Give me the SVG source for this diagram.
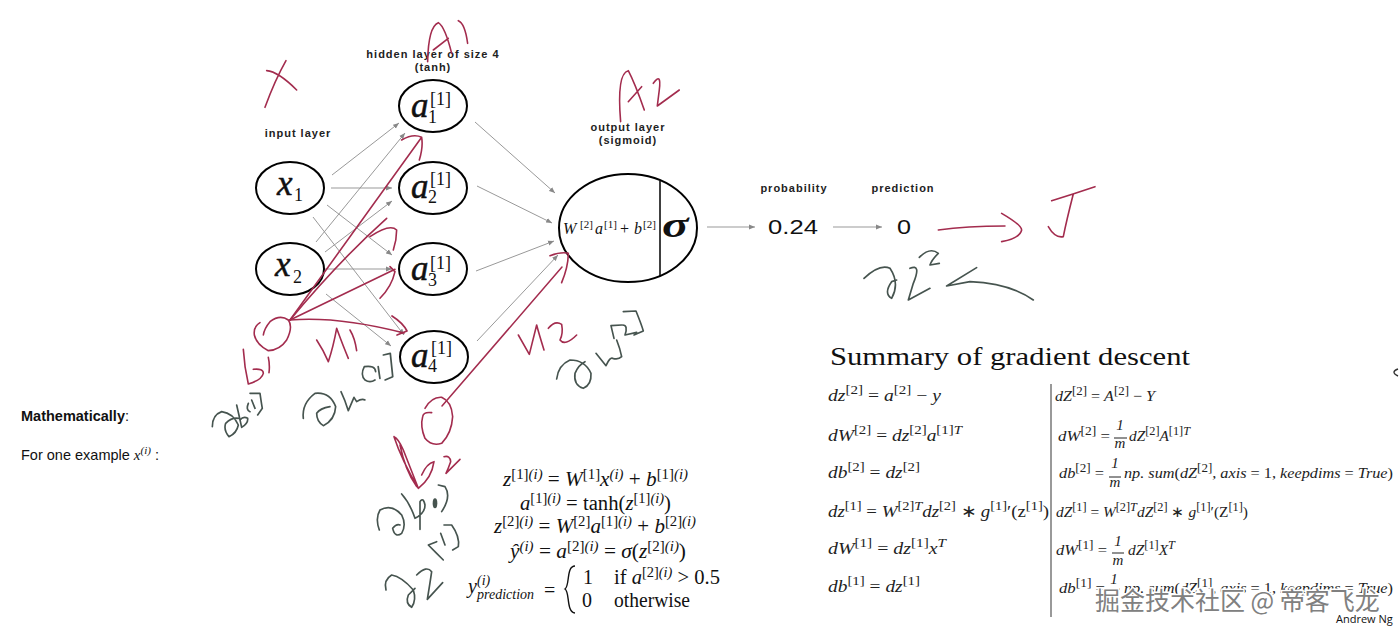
<svg xmlns="http://www.w3.org/2000/svg" width="1400" height="633" viewBox="0 0 1400 633">
<style>
text{font-family:"Liberation Serif",serif;fill:#111}
.l{font-family:"Liberation Sans",Arial,sans-serif;font-weight:700;font-size:11px;text-anchor:middle;fill:#222;letter-spacing:1px}
.n{fill:#fff;stroke:#000;stroke-width:2}
.v{font-size:35px;font-style:italic;stroke:#111;stroke-width:.5}
.vs{font-size:18px}
.c{stroke:#999;stroke-width:1;fill:none;marker-end:url(#a)}
.r path{fill:none;stroke:#a32c4e;stroke-width:4.8;stroke-linecap:round;stroke-linejoin:round}
.d path{fill:none;stroke:#46544f;stroke-width:5;stroke-linecap:round;stroke-linejoin:round}
.e{font-size:20px;font-style:italic}
.u{font-style:normal}
.s{font-size:14px}
.f{font-size:17px;font-style:italic;fill:#222}
.h{font-size:15px;font-style:italic;fill:#222}
.g{font-size:13px}
.q{font-size:12px}
.b{stroke:#222;stroke-width:1}
.w{font-family:"Noto Sans CJK SC",sans-serif;font-size:25px;fill:#808080;stroke:#fff;stroke-width:3;paint-order:stroke}
</style>
<defs><marker id="a" markerWidth="7" markerHeight="6" refX="6" refY="3" orient="auto" markerUnits="userSpaceOnUse"><path d="M0 .5L6 3L0 5.5z" fill="#888"/></marker></defs>

<g id="connectors">
<path class="c" d="M332 175L399 123"/><path class="c" d="M331 188L392 188"/><path class="c" d="M327 205L392 255"/><path class="c" d="M313 217L404 335"/>
<path class="c" d="M316 242L405 133"/><path class="c" d="M325 252L392 201"/><path class="c" d="M325 269L392 269"/><path class="c" d="M326 294L391 346"/>
<path class="c" d="M475 122L555 193"/><path class="c" d="M477 186L552 223"/><path class="c" d="M476 271L554 241"/><path class="c" d="M477 341L558 255"/>
<path class="c" d="M707 227L755 227"/><path class="c" d="M833 227L882 227"/>
</g>

<g id="input-label"><text class="l" x="298" y="137">input layer</text></g>
<g id="hidden-label"><text class="l" x="433" y="58">hidden layer of size 4</text><text class="l" x="433" y="71">(tanh)</text></g>
<g id="output-label"><text class="l" x="628" y="131">output layer</text><text class="l" x="628" y="144">(sigmoid)</text></g>
<g id="probability-label"><text class="l" x="794" y="192">probability</text></g>
<g id="prediction-label"><text class="l" x="903" y="192">prediction</text></g>

<g id="x1"><ellipse class="n" cx="290" cy="188" rx="34" ry="26"/><text class="v" x="277" y="195">x</text><text class="vs" x="294" y="201">1</text></g>
<g id="x2"><ellipse class="n" cx="290" cy="269" rx="34" ry="26"/><text class="v" x="275" y="276">x</text><text class="vs" x="293" y="283">2</text></g>
<g id="a1"><ellipse class="n" cx="433" cy="106" rx="34" ry="26"/><text class="v" x="411" y="117">a</text><text class="vs" x="428" y="123">1</text><text class="vs" x="430" y="105">[1]</text></g>
<g id="a2"><ellipse class="n" cx="433" cy="188" rx="34" ry="26"/><text class="v" x="411" y="198">a</text><text class="vs" x="428" y="203">2</text><text class="vs" x="430" y="185">[1]</text></g>
<g id="a3"><ellipse class="n" cx="433" cy="269" rx="34" ry="26"/><text class="v" x="411" y="280">a</text><text class="vs" x="428" y="286">3</text><text class="vs" x="430" y="269">[1]</text></g>
<g id="a4"><ellipse class="n" cx="434" cy="357" rx="34" ry="26"/><text class="v" x="411" y="367">a</text><text class="vs" x="428" y="372">4</text><text class="vs" x="431" y="354">[1]</text></g>
<g id="output"><ellipse class="n" cx="628" cy="228" rx="69" ry="54"/><path stroke="#000" stroke-width="1.5" d="M660 181V276"/>
<text font-size="16" font-style="italic" x="563" y="234">W</text><text font-size="11" x="580" y="228">[2]</text><text font-size="16" font-style="italic" x="595" y="234">a</text><text font-size="11" x="604" y="228">[1]</text><text font-size="16" x="620" y="234">+</text><text font-size="16" font-style="italic" x="634" y="234">b</text><text font-size="11" x="643" y="228">[2]</text>
<text font-size="34" font-style="italic" font-weight="700" transform="translate(662 237) scale(1.45 1.05)">σ</text></g>
<g id="probability"><text transform="translate(793 234) scale(1.22 1)" font-size="21" style="font-family:'Liberation Sans',sans-serif" text-anchor="middle">0.24</text></g>
<g id="prediction"><text transform="translate(904 234) scale(1.2 1)" font-size="21" style="font-family:'Liberation Sans',sans-serif" text-anchor="middle">0</text></g>

<g id="mathematically" style="font-size:14.5px"><text x="21" y="421" style="font-family:'Liberation Sans',sans-serif"><tspan font-weight="700">Mathematically</tspan>:</text><text x="21" y="460" style="font-family:'Liberation Sans',sans-serif">For one example <tspan style="font-family:'Liberation Serif',serif" font-style="italic" font-size="15">x</tspan><tspan style="font-family:'Liberation Serif',serif" font-size="11" font-style="italic" dy="-6">(i)</tspan><tspan dy="6"> :</tspan></text></g>

<g id="forward-equations">
<text class="e" x="503" y="486" textLength="185" lengthAdjust="spacingAndGlyphs">z<tspan class="s u" dy="-7">[1]</tspan><tspan class="s" >(i)</tspan><tspan dy="7" class="u"> = </tspan>W<tspan class="s u" dy="-7">[1]</tspan><tspan dy="7">x</tspan><tspan class="s" dy="-7">(i)</tspan><tspan dy="7" class="u"> + </tspan>b<tspan class="s u" dy="-7">[1]</tspan><tspan class="s">(i)</tspan></text>
<text class="e" x="520" y="510" textLength="151" lengthAdjust="spacingAndGlyphs">a<tspan class="s u" dy="-7">[1]</tspan><tspan class="s">(i)</tspan><tspan dy="7" class="u"> = tanh(</tspan>z<tspan class="s u" dy="-7">[1]</tspan><tspan class="s">(i)</tspan><tspan dy="7" class="u">)</tspan></text>
<text class="e" x="494" y="533" textLength="202" lengthAdjust="spacingAndGlyphs">z<tspan class="s u" dy="-7">[2]</tspan><tspan class="s">(i)</tspan><tspan dy="7" class="u"> = </tspan>W<tspan class="s u" dy="-7">[2]</tspan><tspan dy="7">a</tspan><tspan class="s u" dy="-7">[1]</tspan><tspan class="s">(i)</tspan><tspan dy="7" class="u"> + </tspan>b<tspan class="s u" dy="-7">[2]</tspan><tspan class="s">(i)</tspan></text>
<text class="e" x="510" y="558" textLength="176" lengthAdjust="spacingAndGlyphs">ŷ<tspan class="s" dy="-7">(i)</tspan><tspan dy="7" class="u"> = </tspan>a<tspan class="s u" dy="-7">[2]</tspan><tspan class="s">(i)</tspan><tspan dy="7" class="u"> = </tspan>σ<tspan class="u">(</tspan>z<tspan class="s u" dy="-7">[2]</tspan><tspan class="s">(i)</tspan><tspan dy="7" class="u">)</tspan></text>
<text class="e" x="468" y="593">y</text><text class="s" font-style="italic" x="477" y="599">prediction</text><text class="s" font-style="italic" x="477" y="585">(i)</text>
<text class="e u" x="544" y="597">=</text>
<path d="M575 566C566 566 570 586 565 589C570 592 566 612 575 613" fill="none" stroke="#111" stroke-width="1.4"/>
<text class="e u" x="583" y="584">1</text><text class="e u" x="614" y="584" textLength="106" lengthAdjust="spacingAndGlyphs">if <tspan font-style="italic">a</tspan><tspan class="s" dy="-7">[2]</tspan><tspan class="s" font-style="italic">(i)</tspan><tspan dy="7"> &gt; 0.5</tspan></text>
<text class="e u" x="582" y="607">0</text><text class="e u" x="614" y="607" textLength="76" lengthAdjust="spacingAndGlyphs">otherwise</text>
</g>

<g id="summary">
<text x="830" y="365" font-size="25" textLength="360" lengthAdjust="spacingAndGlyphs">Summary of gradient descent</text>
<path d="M1051 384V617" stroke="#555" stroke-width="1.2"/>
<text class="f" x="828" y="401" textLength="113" lengthAdjust="spacingAndGlyphs">dz<tspan class="g u" dy="-7">[2]</tspan><tspan dy="7" class="u"> = </tspan>a<tspan class="g u" dy="-7">[2]</tspan><tspan dy="7" class="u"> − </tspan>y</text>
<text class="f" x="828" y="441" textLength="134" lengthAdjust="spacingAndGlyphs">dW<tspan class="g u" dy="-7">[2]</tspan><tspan dy="7" class="u"> = </tspan>dz<tspan class="g u" dy="-7">[2]</tspan><tspan dy="7">a</tspan><tspan class="g u" dy="-7">[1]</tspan><tspan class="g">T</tspan></text>
<text class="f" x="828" y="478" textLength="92" lengthAdjust="spacingAndGlyphs">db<tspan class="g u" dy="-7">[2]</tspan><tspan dy="7" class="u"> = </tspan>dz<tspan class="g u" dy="-7">[2]</tspan></text>
<text class="f" x="828" y="517" textLength="221" lengthAdjust="spacingAndGlyphs">dz<tspan class="g u" dy="-7">[1]</tspan><tspan dy="7" class="u"> = </tspan>W<tspan class="g u" dy="-7">[2]</tspan><tspan class="g">T</tspan><tspan dy="7">dz</tspan><tspan class="g u" dy="-7">[2]</tspan><tspan dy="7" class="u"> ∗ </tspan>g<tspan class="g u" dy="-7">[1]</tspan><tspan dy="7" class="u">′(z</tspan><tspan class="g u" dy="-7">[1]</tspan><tspan dy="7" class="u">)</tspan></text>
<text class="f" x="828" y="554" textLength="118" lengthAdjust="spacingAndGlyphs">dW<tspan class="g u" dy="-7">[1]</tspan><tspan dy="7" class="u"> = </tspan>dz<tspan class="g u" dy="-7">[1]</tspan><tspan dy="7">x</tspan><tspan class="g" dy="-7">T</tspan></text>
<text class="f" x="828" y="592" textLength="92" lengthAdjust="spacingAndGlyphs">db<tspan class="g u" dy="-7">[1]</tspan><tspan dy="7" class="u"> = </tspan>dz<tspan class="g u" dy="-7">[1]</tspan></text>

<text class="h" x="1055" y="401" textLength="100" lengthAdjust="spacingAndGlyphs">dZ<tspan class="q u" dy="-6">[2]</tspan><tspan dy="6" class="u"> = </tspan>A<tspan class="q u" dy="-6">[2]</tspan><tspan dy="6" class="u"> − </tspan>Y</text>
<text class="h" x="1058" y="441" textLength="52" lengthAdjust="spacingAndGlyphs">dW<tspan class="q u" dy="-6">[2]</tspan><tspan dy="6" class="u"> =</tspan></text>
<text class="h u" x="1120" y="430" text-anchor="middle">1</text><path class="b" d="M1114 438H1127"/><text class="h" x="1120" y="448" text-anchor="middle">m</text>
<text class="h" x="1129" y="441" textLength="61" lengthAdjust="spacingAndGlyphs">dZ<tspan class="q u" dy="-6">[2]</tspan><tspan dy="6">A</tspan><tspan class="q u" dy="-6">[1]</tspan><tspan class="q">T</tspan></text>
<text class="h" x="1059" y="478" textLength="45" lengthAdjust="spacingAndGlyphs">db<tspan class="q u" dy="-6">[2]</tspan><tspan dy="6" class="u"> =</tspan></text>
<text class="h u" x="1115" y="468" text-anchor="middle">1</text><path class="b" d="M1109 477H1121"/><text class="h" x="1115" y="487" text-anchor="middle">m</text>
<text class="h" x="1124" y="478" textLength="269" lengthAdjust="spacingAndGlyphs">np. sum<tspan class="u">(</tspan>dZ<tspan class="q u" dy="-6">[2]</tspan><tspan dy="6">, axis</tspan><tspan class="u"> = 1, </tspan>keepdims<tspan class="u"> = </tspan>True<tspan class="u">)</tspan></text>
<text class="h" x="1056" y="517" textLength="192" lengthAdjust="spacingAndGlyphs">dZ<tspan class="q u" dy="-6">[1]</tspan><tspan dy="6" class="u"> = </tspan>W<tspan class="q u" dy="-6">[2]</tspan><tspan class="q">T</tspan><tspan dy="6">dZ</tspan><tspan class="q u" dy="-6">[2]</tspan><tspan dy="6" class="u"> ∗ </tspan>g<tspan class="q u" dy="-6">[1]</tspan><tspan dy="6" class="u">′(Z</tspan><tspan class="q u" dy="-6">[1]</tspan><tspan dy="6" class="u">)</tspan></text>
<text class="h" x="1056" y="555" textLength="51" lengthAdjust="spacingAndGlyphs">dW<tspan class="q u" dy="-6">[1]</tspan><tspan dy="6" class="u"> =</tspan></text>
<text class="h u" x="1118" y="546" text-anchor="middle">1</text><path class="b" d="M1112 553H1124"/><text class="h" x="1118" y="565" text-anchor="middle">m</text>
<text class="h" x="1128" y="555" textLength="47" lengthAdjust="spacingAndGlyphs">dZ<tspan class="q u" dy="-6">[1]</tspan><tspan dy="6">X</tspan><tspan class="q" dy="-6">T</tspan></text>
<text class="h" x="1059" y="593" textLength="46" lengthAdjust="spacingAndGlyphs">db<tspan class="q u" dy="-6">[1]</tspan><tspan dy="6" class="u"> =</tspan></text>
<text class="h u" x="1114" y="584" text-anchor="middle">1</text><path class="b" d="M1108 589H1120"/><text class="h" x="1114" y="602" text-anchor="middle">m</text>
<text class="h" x="1124" y="593" textLength="269" lengthAdjust="spacingAndGlyphs">np. sum<tspan class="u">(</tspan>dZ<tspan class="q u" dy="-6">[1]</tspan><tspan dy="6">, axis</tspan><tspan class="u"> = 1, </tspan>keepdims<tspan class="u"> = </tspan>True<tspan class="u">)</tspan></text>
<text x="1336" y="623" font-size="11" style="font-family:'Open Sans',sans-serif">Andrew Ng</text>
</g>

<g class="r" id="red-top" transform="translate(200 0) scale(.3333)">
<path d="M200 212Q235 215 290 270M258 182Q225 240 195 322"/>
<path d="M683 185Q685 80 715 68Q735 80 755 160M700 150L745 115M775 62Q795 70 803 130"/>
<path d="M1262 365Q1250 220 1285 212Q1305 250 1333 330M1285 305L1325 260M1360 250Q1385 215 1378 270L1372 318L1438 270"/>
<path d="M270 960L665 412M605 420Q640 400 665 412Q670 440 658 480"/>
<path d="M270 960Q420 780 560 655M510 710Q570 670 590 690Q590 720 580 750"/>
<path d="M270 960L585 808M570 800L585 815Q575 860 540 895"/>
<path d="M1050 767Q1085 755 1105 760Q1105 800 1085 848"/>
</g>
<g class="r" id="red-lines">
<path stroke-width="1.6" d="M290 320Q338 316 404 333" style="stroke-width:1.7"/><path d="M392 316Q403 323 407 331L397 335" style="stroke-width:1.7"/>
<path d="M442 406L562 267" style="stroke-width:1.5"/>
</g>
<g class="r" id="red-b1w1" transform="translate(205 310) scale(.3333)">
<path d="M165 38Q145 50 148 75Q155 105 190 122Q225 120 245 90Q265 50 250 30Q225 12 195 35Q178 55 175 75"/>
<path d="M115 118Q118 170 130 222Q170 210 175 190Q175 175 145 178M190 142Q195 165 192 188"/>
<path d="M335 90Q355 120 370 155Q385 110 395 55Q415 110 430 145M435 60Q450 85 455 122"/>
</g>
<g class="r" id="red-b2" transform="translate(370 390) scale(.3333)">
<path d="M185 68Q160 65 158 80Q150 110 165 145Q185 170 215 160Q245 130 248 80Q245 35 215 22Q185 20 165 55"/>
<path d="M72 140Q85 145 100 180L145 295Q95 210 72 140M90 165Q105 240 140 290M145 295Q185 265 192 215Q170 220 155 255"/>
<path d="M222 200Q240 195 242 215Q235 235 228 250L270 208"/>
</g>
<g class="r" id="red-w2" transform="translate(510 305) scale(.3333)">
<path d="M25 90L58 148L80 60Q85 80 102 135M115 70Q135 45 155 58Q160 85 150 105Q165 125 200 90"/>
</g>
<g class="r" id="red-j" transform="translate(700 170) scale(.3333)">
<path d="M715 180Q800 168 915 168M905 130Q965 165 965 180Q960 205 905 215"/>
<path d="M1055 92Q1120 72 1185 50M1120 72Q1100 150 1090 200Q1065 205 1045 170"/>
</g>
<g class="d" id="dark-b1w1" transform="translate(205 310) scale(.3333)">
<path d="M22 350Q22 315 50 305Q85 310 100 345Q95 370 72 380Q55 360 62 340Q80 322 100 325M95 285Q103 320 110 352Q130 340 128 325Q115 318 105 330M130 280Q122 300 135 305M140 270L150 295M135 250L165 250Q170 285 172 295L158 315"/>
<path d="M295 325Q290 280 330 250Q375 245 392 290Q390 330 355 347Q335 335 335 310Q345 295 375 290M408 245Q420 270 430 302L447 262L455 275Q470 265 480 270M512 185Q510 165 478 170Q465 195 480 210Q495 220 510 210"/>
</g>
<g class="d" id="dark-w1bracket" transform="translate(200 300) scale(.346 .3333)">
<path d="M515 200L520 235M530 165L550 160L557 230L535 240"/>
</g>
<g class="d" id="dark-b2z" transform="translate(370 390) scale(.3333)">
<path d="M28 420Q15 385 30 360Q65 340 95 375Q110 405 95 430Q75 445 68 415Q80 400 90 405M95 312Q120 340 135 385Q165 370 165 345Q160 320 150 335L150 418M205 285L225 290Q245 320 215 365"/>
<ellipse cx="195" cy="340" rx="7" ry="15" fill="#46544f"/>
<path d="M48 600Q40 570 65 555Q95 560 130 600Q140 630 125 652Q105 640 115 615Q130 600 135 595M140 555Q170 525 185 545Q180 580 172 628L218 578M200 455L175 465L200 490L220 510M212 430L225 465M222 405L245 405Q270 440 265 470L248 480"/>
</g>
<g class="d" id="dark-w2" transform="translate(510 305) scale(.3333)">
<path d="M140 222Q145 180 180 165Q225 165 243 205Q245 240 220 250Q190 240 195 205Q205 180 225 170M258 145L288 182Q300 155 308 160Q325 165 335 155Q330 130 320 105M335 60L303 62L312 100M338 60Q355 60 345 90L380 82M340 20L378 18Q395 60 400 78L372 90"/>
</g>
<g class="d" id="dark-dz" transform="translate(700 170) scale(.3333)">
<path d="M492 325Q540 280 570 295Q600 340 575 385Q550 370 575 335L590 330M630 295Q665 280 640 340L625 390L690 355M658 262Q690 230 715 250Q695 270 690 285L718 280"/>
<path d="M830 293L740 348L810 335Q930 340 1000 390"/>
</g>
<path d="M1398 369Q1390 372 1398 376" fill="none" stroke="#333" stroke-width="1.4"/>
<g id="watermark"><text class="w" x="1095" y="610">掘金技术社区 @ 帝客飞龙</text></g>
</svg>
